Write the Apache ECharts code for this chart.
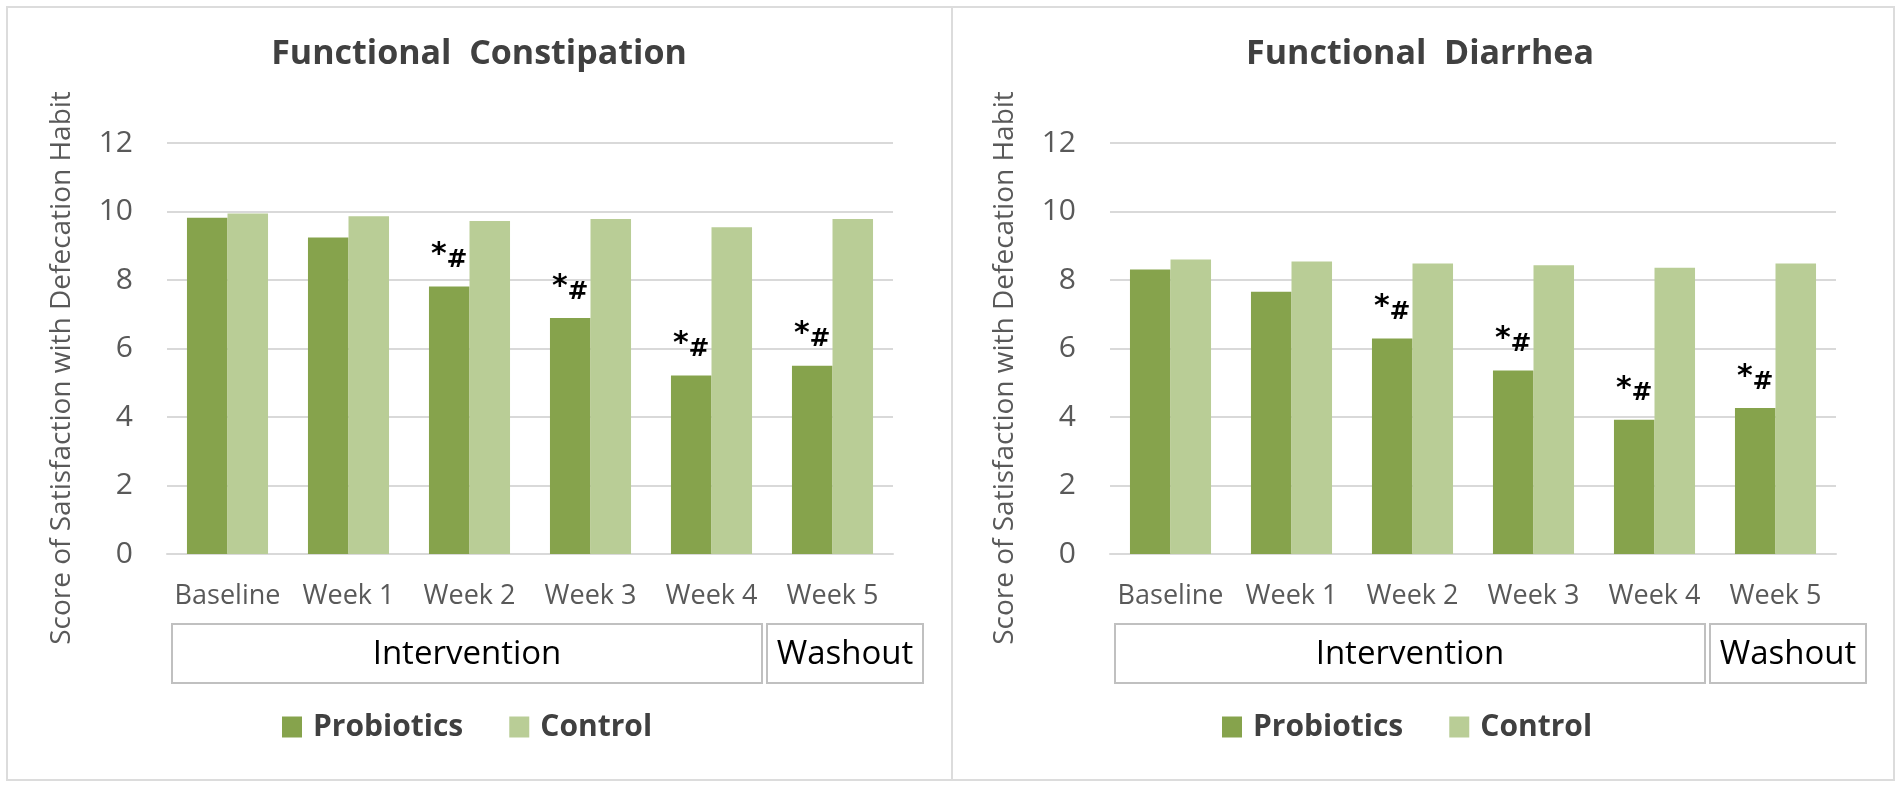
<!DOCTYPE html>
<html>
<head>
<meta charset="utf-8">
<title>Satisfaction with Defecation Habit</title>
<script src="https://cdn.jsdelivr.net/npm/echarts@6/dist/echarts.min.js"></script>
<style>
  html, body { margin: 0; padding: 0; background: #ffffff; }
  #chart { width: 1902px; height: 788px; }
</style>
</head>
<body>
<div id="chart"></div>
<script>
// values
const categories = ['Baseline', 'Week 1', 'Week 2', 'Week 3', 'Week 4', 'Week 5'];
const constipationProbiotics = [9.82, 9.24, 7.81, 6.89, 5.21, 5.50];
const constipationControl = [9.94, 9.86, 9.72, 9.78, 9.54, 9.78];
const diarrheaProbiotics = [8.31, 7.66, 6.29, 5.36, 3.92, 4.26];
const diarrheaControl = [8.60, 8.54, 8.48, 8.43, 8.36, 8.48];
const sigMarks = ['', '', '*#', '*#', '*#', '*#'];
const panelTitles = ['Functional  Constipation', 'Functional  Diarrhea'];
const phaseLabels = ['Intervention', 'Washout'];
const yTitle = 'Score of Satisfaction with Defecation Habit';

const FONT = '"Open Sans", "Noto Sans", sans-serif';
const DARK = '#86a34c';
const LIGHT = '#b9cd96';

const container = document.getElementById('chart');
const chart = echarts.init(container, null, { renderer: 'canvas' });

// layout of the two panels
const panels = [
    { plotLeft: 167, titleX: 479, yTitleX: 62, legendLeft: 282 },
    { plotLeft: 1110, titleX: 1420, yTitleX: 1005, legendLeft: 1222 }
];
const plotTop = 143, plotW = 726, plotH = 411;

function sigLabel(p) {
    const m = sigMarks[p.dataIndex];
    return m ? '{s|*}{h|#}' : '';
}

const grids = [], xAxes = [], yAxes = [], titles = [], legends = [], graphics = [];
const seriesData = [
    [constipationProbiotics, constipationControl],
    [diarrheaProbiotics, diarrheaControl]
];
const series = [];

panels.forEach(function (pn, i) {
    grids.push({ left: pn.plotLeft, top: plotTop, width: plotW, height: plotH, outerBoundsMode: 'none' });
    xAxes.push({
        type: 'category',
        gridIndex: i,
        data: categories,
        axisLine: { show: true, lineStyle: { color: '#d9d9d9', width: 2 } },
        axisTick: { show: false },
        axisLabel: { color: '#595959', fontSize: 27, fontFamily: FONT, margin: 29, interval: 0 }
    });
    yAxes.push({
        type: 'value',
        gridIndex: i,
        min: 0,
        max: 12,
        interval: 2,
        axisLine: { show: false },
        axisTick: { show: false },
        axisLabel: { color: '#595959', fontSize: 30, fontFamily: FONT, margin: 34 },
        splitLine: { lineStyle: { color: '#d9d9d9', width: 2 } }
    });
    titles.push({
        text: panelTitles[i],
        left: pn.titleX,
        top: 37,
        padding: 0,
        textAlign: 'center',
        textStyle: { color: '#404040', fontSize: 34, fontWeight: 'bold', fontFamily: FONT }
    });
    legends.push({
        left: pn.legendLeft,
        top: 712,
        padding: 0,
        selectedMode: false,
        icon: 'rect',
        itemWidth: 20,
        itemHeight: 21,
        itemGap: 46,
        data: ['Probiotics', 'Control'],
        textStyle: { color: '#404040', fontSize: 30, fontWeight: 'bold', fontFamily: FONT, padding: [0, 0, 0, 6] }
    });

    series.push({
        name: 'Probiotics',
        type: 'bar',
        xAxisIndex: i,
        yAxisIndex: i,
        data: seriesData[i][0],
        barGap: '0%',
        barCategoryGap: '33%',
        itemStyle: { color: DARK },
        label: {
            show: true,
            position: 'top',
            distance: 6,
            formatter: sigLabel,
            rich: {
                s: { fontSize: 30, color: '#000', fontWeight: 'bold', fontFamily: 'DejaVu Sans', padding: [0, 0, 10, 0] },
                h: { fontSize: 25, color: '#000', fontWeight: 'bold', fontFamily: 'DejaVu Sans' }
            }
        }
    });
    series.push({
        name: 'Control',
        type: 'bar',
        xAxisIndex: i,
        yAxisIndex: i,
        data: seriesData[i][1],
        barGap: '0%',
        barCategoryGap: '33%',
        itemStyle: { color: LIGHT }
    });

    // phase boxes under the category labels
    const boxes = [
        { x: pn.plotLeft + 5, w: 590, text: phaseLabels[0] },
        { x: pn.plotLeft + 600, w: 156, text: phaseLabels[1] }
    ];
    boxes.forEach(function (b) {
        graphics.push({
            type: 'rect',
            shape: { x: b.x, y: 624, width: b.w, height: 59 },
            style: { fill: '#fff', stroke: '#c0c0c0', lineWidth: 2 }
        });
        graphics.push({
            type: 'text',
            x: b.x + b.w / 2,
            y: 655,
            style: {
                text: b.text, fill: '#000', fontSize: 33, fontFamily: FONT,
                textAlign: 'center', textVerticalAlign: 'middle'
            }
        });
    });

    // rotated axis title
    graphics.push({
        type: 'text',
        x: pn.yTitleX,
        y: 368,
        rotation: Math.PI / 2,
        style: {
            text: yTitle, fill: '#595959', fontSize: 28, fontFamily: FONT,
            textAlign: 'center', textVerticalAlign: 'middle'
        }
    });
});

// outer frame and divider
graphics.push({
    type: 'rect',
    z: -1,
    shape: { x: 7, y: 7, width: 1887, height: 773 },
    style: { fill: null, stroke: '#dcdcdc', lineWidth: 2 }
});
graphics.push({
    type: 'line',
    shape: { x1: 952, y1: 7, x2: 952, y2: 780 },
    style: { stroke: '#dcdcdc', lineWidth: 2 }
});

const option = {
    animation: false,
    backgroundColor: '#ffffff',
    title: titles,
    legend: legends,
    grid: grids,
    xAxis: xAxes,
    yAxis: yAxes,
    series: series,
    graphic: graphics
};

chart.setOption(option);
</script>
</body>
</html>
